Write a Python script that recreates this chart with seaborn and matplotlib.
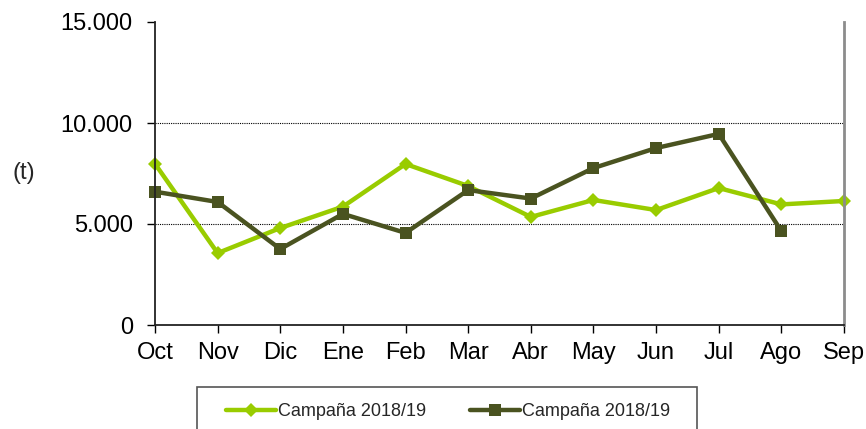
import matplotlib
matplotlib.use("Agg")
import matplotlib.pyplot as plt
from matplotlib.patches import Rectangle
from matplotlib.ticker import FuncFormatter
import seaborn as sns
import pandas as pd

meses = ["Oct", "Nov", "Dic", "Ene", "Feb", "Mar", "Abr", "May", "Jun", "Jul", "Ago", "Sep"]
serie_a = [7980, 3560, 4800, 5860, 7970, 6880, 5350, 6190, 5690, 6780, 5970, 6140]
serie_b = [6600, 6090, 3760, 5500, 4560, 6680, 6260, 7770, 8760, 9460, 4650, None]
nombres = ["Campaña 2018/19", "Campaña 2018/19"]

sns.set_style("white")
plt.rcParams["font.family"] = ["Liberation Sans", "DejaVu Sans"]

df_a = pd.DataFrame({"mes": range(len(meses)), "t": serie_a})
df_b = pd.DataFrame({"mes": range(len(meses)), "t": serie_b}).dropna()

fig = plt.figure(figsize=(8.66, 4.29), dpi=100)
ax = fig.add_axes([155/866, 1-325/429, (844-155)/866, (325-22)/429])

sns.lineplot(data=df_a, x="mes", y="t", ax=ax, color="#99cc00", lw=3.2,
             marker="D", markersize=7, markeredgewidth=0, label=nombres[0], clip_on=False)
sns.lineplot(data=df_b, x="mes", y="t", ax=ax, color="#4a5320", lw=3.2,
             marker="s", markersize=8.5, markeredgewidth=0, label=nombres[1], clip_on=False)

ax.set_xlim(0, 11)
ax.set_ylim(0, 15000)
ax.set_xticks(range(len(meses)))
ax.set_xticklabels(meses)
ax.set_yticks([0, 5000, 10000, 15000])
ax.yaxis.set_major_formatter(FuncFormatter(lambda v, p: f"{int(v):,}".replace(",", ".")))
ax.set_xlabel("")
ax.set_ylabel("")
ax.tick_params(axis="both", labelsize=17, colors="black", direction="out", length=6, width=1)
ax.tick_params(axis="y", pad=10)
ax.tick_params(axis="x", pad=6)
ax.xaxis.set_ticks_position("bottom")
ax.yaxis.set_ticks_position("left")

for y in [5000, 10000]:
    ax.axhline(y, color="black", lw=0.8, ls=(0, (1, 1)), zorder=0)

ax.spines["top"].set_visible(False)
ax.spines["left"].set_color("#222222")
ax.spines["left"].set_linewidth(1.3)
ax.spines["bottom"].set_color("#222222")
ax.spines["bottom"].set_linewidth(1.3)
ax.spines["right"].set_color("#8c8c8c")
ax.spines["right"].set_linewidth(2)

fig.text(24/866, 1-173/429, "(t)", fontsize=17, ha="center", va="center")

leg = ax.legend(loc="upper center", bbox_to_anchor=(448/866, 1-394/429),
                bbox_transform=fig.transFigure, ncol=2, frameon=False,
                fontsize=13, handlelength=2.8, handletextpad=0.1,
                columnspacing=2.4, numpoints=1, borderpad=0)
for h in leg.legend_handles:
    h.set_linewidth(3.2)

fig.patches.append(Rectangle((197/866, 1-445/429), 500/866, 58/429,
                             transform=fig.transFigure, fill=False,
                             edgecolor="#555555", lw=1.2))

fig.savefig("out.png", dpi=100)
